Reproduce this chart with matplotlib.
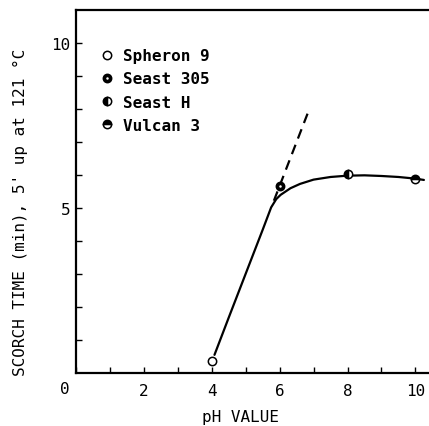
import matplotlib
matplotlib.use('Agg')
import matplotlib.pyplot as plt
from matplotlib.legend_handler import HandlerTuple

# measured points (pH, scorch time in min)
names = ['Spheron 9', 'Seast 305', 'Seast H', 'Vulcan 3']
ph = [4, 6, 8, 10]
scorch = [0.35, 5.68, 6.02, 5.88]

# hand drawn curve through the points
curve_x = [4.08, 4.5, 5.0, 5.5, 5.75, 5.9, 6.03, 6.32, 6.6, 7.0, 7.5, 8.0, 8.5, 9.0, 9.5, 10.0, 10.25]
curve_y = [0.55, 1.68, 3.01, 4.34, 5.02, 5.27, 5.40, 5.60, 5.73, 5.86, 5.94, 5.98, 5.99, 5.97, 5.94, 5.89, 5.85]

# dashed extension of the straight part
dash_x = [5.83, 6.86]
dash_y = [5.22, 7.96]

plt.rcParams['font.family'] = ['DejaVu Sans Mono']
fs = 11.5

fig = plt.figure(figsize=(4.29, 4.27), dpi=100)
ax = fig.add_axes([76 / 429, 1 - 374 / 427, 353 / 429, 363 / 427])

ax.plot(curve_x, curve_y, color='black', lw=1.6, solid_capstyle='round')
ax.plot(dash_x, dash_y, color='black', lw=1.6, dashes=(4.5, 3))

ms = 6
mew = 1.1
styles = [dict(mfc='white', fillstyle='full'),
          dict(mfc='black', fillstyle='full'),
          dict(mfc='black', fillstyle='left', markerfacecoloralt='white'),
          dict(mfc='black', fillstyle='top', markerfacecoloralt='white')]

handles = []
for i in range(len(names)):
    h, = ax.plot([ph[i]], [scorch[i]], 'o', color='black', ms=ms, mew=mew, **styles[i])
    if i == 1:
        dot, = ax.plot([ph[i]], [scorch[i]], 'o', color='white', ms=1.8, mew=0)
        h = (h, dot)
    handles.append(h)

ax.legend(handles, names, loc='upper left', bbox_to_anchor=(0.051, 0.917),
          frameon=False, borderpad=0, handlelength=0.6, handletextpad=0.7,
          labelspacing=0.52, numpoints=1,
          handler_map={tuple: HandlerTuple(ndivide=1, pad=0)},
          prop=dict(family='DejaVu Sans Mono', weight='bold', size=fs))

ax.set_xlim(0, 10.4)
ax.set_ylim(0, 11)

ax.set_xticks([0, 2, 4, 6, 8, 10])
ax.set_xticklabels(['', '2', '4', '6', '8', '10'])
ax.set_xticks([1, 3, 5, 7, 9], minor=True)
ax.set_yticks([5, 10])
ax.set_yticks([1, 2, 3, 4, 6, 7, 8, 9], minor=True)
ax.tick_params(which='both', direction='in', length=4, width=1, labelsize=fs)
ax.tick_params(axis='x', pad=7)
ax.tick_params(axis='y', pad=4)
ax.text(-0.031, -0.044, '0', transform=ax.transAxes, ha='center', va='center', fontsize=fs)

ax.spines['right'].set_visible(False)
for s in ['left', 'bottom', 'top']:
    ax.spines[s].set_linewidth(1.6)

ax.set_xlabel('pH VALUE', fontsize=fs)
ax.xaxis.set_label_coords(0.465, -0.1)
ax.set_ylabel("SCORCH TIME (min), 5' up at 121 \u00b0C", fontsize=fs)
ax.yaxis.set_label_coords(-0.137, 0.446)

fig.savefig('out.png', dpi=100)
